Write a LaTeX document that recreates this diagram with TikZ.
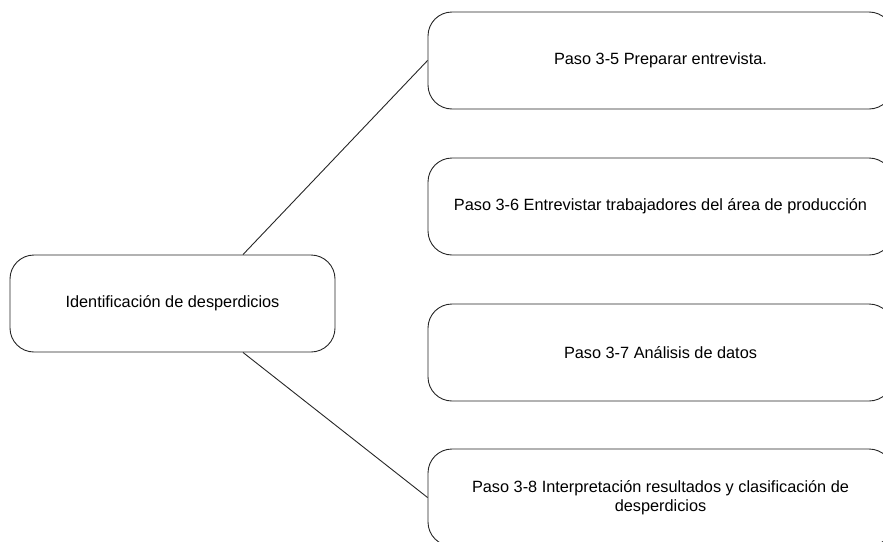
\documentclass[tikz,border=0pt]{standalone}
\usepackage{fontspec}
\setmainfont{Liberation Sans}
\begin{document}
\begin{tikzpicture}[x=1pt,y=-1pt,
  box/.style={draw=black!85, line width=0.9pt, rounded corners=24pt, inner sep=0pt,
    align=center, font=\fontsize{16.3}{18.8}\selectfont},
  conn/.style={draw=black!85, line width=0.9pt}]
\useasboundingbox (0,0) rectangle (883,541);
\clip (0,0) rectangle (883,541);
\node[box, minimum width=325pt, minimum height=97pt] (L) at (172.5,303.5) {Identificación de desperdicios};
\node[box, minimum width=465pt, minimum height=97pt] (B1) at (660.5,60.5) {Paso 3-5 Preparar entrevista.};
\node[box, minimum width=465pt, minimum height=97pt] (B2) at (660.5,206.5) {Paso 3-6 Entrevistar trabajadores del área de producción};
\node[box, minimum width=465pt, minimum height=97pt] (B3) at (660.5,352.5) {Paso 3-7 Análisis de datos};
\node[box, minimum width=465pt, minimum height=97pt] (B4) at (660.5,497.5) {Paso 3-8 Interpretación resultados y clasificación de\\desperdicios};
\draw[conn] ([xshift=70.5pt]L.north) -- (B1.west);
\draw[conn] ([xshift=70.5pt]L.south) -- (B4.west);
\end{tikzpicture}
\end{document}
